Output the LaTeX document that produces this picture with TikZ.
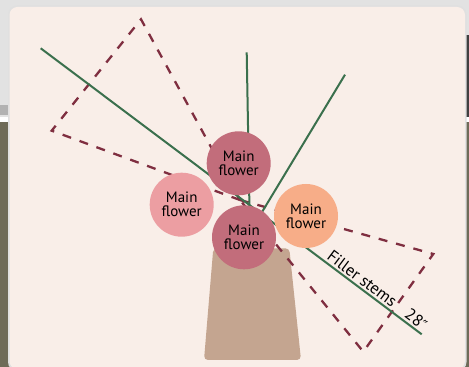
\documentclass[tikz,border=0pt]{standalone}
\usepackage{fontspec}
\setmainfont{PT Sans}
\newfontfamily\primefont{DejaVu Sans}
\usepackage{tikz}

\definecolor{bggray}{HTML}{E2E2E2}
\definecolor{bgolive}{HTML}{6E6B58}
\definecolor{card}{HTML}{F9EEE8}
\definecolor{stemgreen}{HTML}{3B704D}
\definecolor{conered}{HTML}{7F2E40}
\definecolor{vasetan}{HTML}{C4A590}
\definecolor{roseflower}{HTML}{C26D7B}
\definecolor{pinkflower}{HTML}{EC9EA2}
\definecolor{peachflower}{HTML}{F7AD88}

\begin{document}
\begin{tikzpicture}[x=1pt,y=1pt,
  stem/.style={stemgreen,line width=2pt},
  cone/.style={conered,line width=2.3pt,dash pattern=on 9pt off 9pt},
  flower/.style={circle,minimum size=64pt,inner sep=0pt,align=center,
    text=black,font=\fontsize{15}{14}\selectfont},
  stemlabel/.style={sloped,above,text=black,inner sep=2pt,
    font=\fontsize{16.5}{16.5}\selectfont}]
\useasboundingbox (0,0) rectangle (469,367);

\coordinate (v) at (240,167);
\coordinate (a1) at (51.7,236.3);
\coordinate (a2) at (141,347.7);
\coordinate (b1) at (433.3,113);
\coordinate (b2) at (363.3,15.3);
\coordinate (longtop) at (40.7,318.7);
\coordinate (longend) at (421.7,32.7);
\coordinate (midtop) at (246.7,314.7);
\coordinate (midend) at (249.5,157);
\coordinate (righttop) at (345,292.3);
\coordinate (rightend) at (256,145);

\fill[bggray] (0,367) rectangle (469,250);
\fill[gray!60] (0,262) rectangle (9.5,252);
\fill[black!75] (465,332) rectangle (469,250);
\fill[white] (0,250) rectangle (469,245);
\fill[bgolive] (0,245) rectangle (469,0);
\fill[black!12,rounded corners=9pt] (8,-4) rectangle (466.5,361.5);
\fill[card,rounded corners=8pt] (9.5,-2) rectangle (465,360);

\fill[vasetan,rounded corners=4pt] (213.3,118.7) -- (289.3,118.7) -- (301,7) -- (204,7) -- cycle;

\draw[cone] (v) -- (a1) -- (a2) -- cycle;
\draw[cone] (v) -- (b1) -- (b2) -- cycle;

\draw[stem] (longtop) -- (longend)
  node[stemlabel,pos=0.83] (fillerlabel) {Filler stems}
  node[stemlabel,pos=0.972] (lengthlabel) {28{\primefont\fontsize{14}{14}\selectfont ″}};
\draw[stem] (midtop) -- (midend);
\draw[stem] (righttop) -- (rightend);

\node[flower,fill=roseflower] (topflower) at (238.7,203.7) {Main\\flower};
\node[flower,fill=pinkflower] (leftflower) at (181.7,162.3) {Main\\flower};
\node[flower,fill=peachflower] (rightflower) at (306,151) {Main\\flower};
\node[flower,fill=roseflower] (bottomflower) at (244,129.7) {Main\\flower};
\end{tikzpicture}
\end{document}
